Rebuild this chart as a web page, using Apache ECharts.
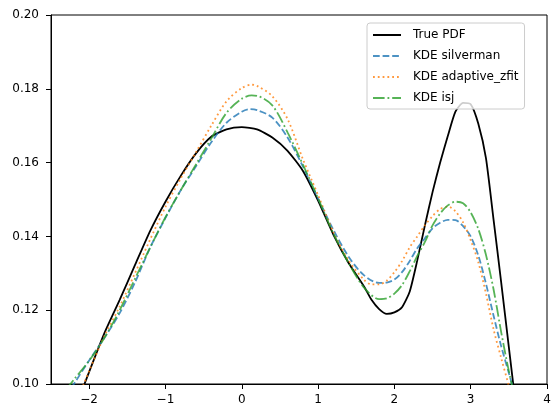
<!DOCTYPE html>
<html>
<head>
<meta charset="utf-8">
<script src="https://cdn.jsdelivr.net/npm/echarts@6/dist/echarts.min.js"></script>
<style>
  html, body { margin: 0; padding: 0; background: #fff; }
  #chart { width: 560px; height: 418px; }
</style>
</head>
<body>
<div id="chart"></div>
<script>
// x tick labels
var xTicks = [-2, -1, 0, 1, 2, 3, 4];

// True PDF
var trueX = [-2.2, -2.0, -1.8, -1.6, -1.4, -1.2, -1.0, -0.8, -0.6, -0.4, -0.2, 0.0, 0.2, 0.4, 0.6, 0.8, 1.0, 1.2, 1.4, 1.6, 1.7, 1.8, 1.9, 2.0, 2.1, 2.2, 2.3, 2.4, 2.5, 2.6, 2.7, 2.8, 2.9, 3.0, 3.1, 3.2, 3.3, 3.4, 3.5, 3.6];
var trueY = [0.0925, 0.1033, 0.1138, 0.1228, 0.1322, 0.1415, 0.1494, 0.1564, 0.1625, 0.1670, 0.1690, 0.1696, 0.1690, 0.1668, 0.1632, 0.1578, 0.1497, 0.1405, 0.1328, 0.1265, 0.1228, 0.1203, 0.1190, 0.1194, 0.1208, 0.1250, 0.1335, 0.1430, 0.1520, 0.1600, 0.1672, 0.1738, 0.1762, 0.1758, 0.1705, 0.1612, 0.1445, 0.1275, 0.1100, 0.0925];

// KDE silverman
var silvX = [-2.3, -2.2, -2.0, -1.8, -1.6, -1.4, -1.2, -1.0, -0.8, -0.6, -0.4, -0.2, 0.0, 0.1, 0.2, 0.4, 0.6, 0.8, 1.0, 1.2, 1.4, 1.6, 1.8, 1.9, 2.0, 2.1, 2.2, 2.3, 2.4, 2.5, 2.6, 2.7, 2.8, 2.9, 3.0, 3.1, 3.2, 3.3, 3.4, 3.5, 3.6];
var silvY = [0.0968, 0.1000, 0.1064, 0.1125, 0.1192, 0.1275, 0.1370, 0.1450, 0.1525, 0.1590, 0.1655, 0.1708, 0.1738, 0.1745, 0.1742, 0.1722, 0.1668, 0.1590, 0.1503, 0.1418, 0.1345, 0.1295, 0.1274, 0.1275, 0.1283, 0.1303, 0.1333, 0.1368, 0.1395, 0.1422, 0.1437, 0.1445, 0.1444, 0.1428, 0.1400, 0.1348, 0.1272, 0.1185, 0.1102, 0.1030, 0.0955];

// KDE adaptive_zfit
var adaptX = [-2.2, -2.0, -1.8, -1.6, -1.4, -1.2, -1.0, -0.8, -0.6, -0.4, -0.2, 0.0, 0.13, 0.2, 0.4, 0.6, 0.8, 1.0, 1.2, 1.4, 1.6, 1.7, 1.8, 1.9, 2.0, 2.1, 2.2, 2.3, 2.4, 2.5, 2.6, 2.7, 2.8, 2.9, 3.0, 3.1, 3.2, 3.3, 3.4, 3.5, 3.6];
var adaptY = [0.0935, 0.1035, 0.1130, 0.1210, 0.1300, 0.1392, 0.1480, 0.1557, 0.1628, 0.1700, 0.1766, 0.1802, 0.1811, 0.1808, 0.1780, 0.1718, 0.1610, 0.1512, 0.1412, 0.1335, 0.1283, 0.1270, 0.1270, 0.1280, 0.1303, 0.1333, 0.1370, 0.1400, 0.1430, 0.1455, 0.1474, 0.1481, 0.1468, 0.1438, 0.1390, 0.1330, 0.1245, 0.1148, 0.1070, 0.0995, 0.0920];

// KDE isj
var isjX = [-2.3, -2.2, -2.0, -1.8, -1.6, -1.4, -1.2, -1.0, -0.8, -0.6, -0.4, -0.2, 0.0, 0.13, 0.2, 0.4, 0.6, 0.8, 1.0, 1.2, 1.4, 1.6, 1.8, 1.9, 2.0, 2.1, 2.2, 2.3, 2.4, 2.5, 2.6, 2.7, 2.8, 2.9, 3.0, 3.1, 3.2, 3.3, 3.4, 3.5, 3.6];
var isjY = [0.0985, 0.1012, 0.1063, 0.1125, 0.1200, 0.1285, 0.1370, 0.1452, 0.1525, 0.1595, 0.1665, 0.1735, 0.1773, 0.1782, 0.1781, 0.1755, 0.1682, 0.1595, 0.1503, 0.1408, 0.1328, 0.1262, 0.1230, 0.1232, 0.1245, 0.1268, 0.1305, 0.1347, 0.1385, 0.1430, 0.1462, 0.1484, 0.1494, 0.1490, 0.1465, 0.1420, 0.1350, 0.1256, 0.1140, 0.1035, 0.0945];

function pairs(xs, ys) {
  return xs.map(function (x, i) { return [x, ys[i]]; });
}

var font = 'DejaVu Sans';
var chart = echarts.init(document.getElementById('chart'), null, { renderer: 'canvas' });

var option = {
  animation: false,
  backgroundColor: '#fff',
  textStyle: { fontFamily: font },
  grid: {
    left: 51, right: 13, top: 15, bottom: 34,
    show: true, borderColor: '#000', borderWidth: 1, backgroundColor: 'transparent'
  },
  legend: {
    orient: 'vertical',
    left: 367, top: 23,
    padding: [6, 6, 5, 5],
    itemWidth: 28, itemHeight: 14, itemGap: 9,
    backgroundColor: 'rgba(255,255,255,0.8)',
    borderColor: '#cccccc', borderWidth: 1, borderRadius: 3,
    itemStyle: { opacity: 0 },
    textStyle: { fontFamily: font, fontSize: 12, color: '#000', padding: [0, 0, 0, 7] },
    data: ['True PDF', 'KDE silverman', 'KDE adaptive_zfit', 'KDE isj']
  },
  xAxis: {
    type: 'value', min: -2.5, max: 4,
    axisLine: { onZero: false, lineStyle: { color: '#000', width: 1 } },
    axisTick: { show: true, length: 5, customValues: xTicks, lineStyle: { color: '#000' } },
    axisLabel: {
      customValues: xTicks, margin: 10, color: '#000', fontSize: 12, fontFamily: font,
      formatter: function (v) { return (v < 0 ? '\u2212' : '') + Math.abs(v); }
    },
    splitLine: { show: false }
  },
  yAxis: {
    type: 'value', min: 0.1, max: 0.2, interval: 0.02,
    axisLine: { show: true, onZero: false, lineStyle: { color: '#000', width: 1 } },
    axisTick: { show: true, length: 5, lineStyle: { color: '#000' } },
    axisLabel: {
      margin: 12, color: '#000', fontSize: 12, fontFamily: font,
      formatter: function (v) { return v.toFixed(2); }
    },
    splitLine: { show: false }
  },
  series: [
    {
      name: 'True PDF', type: 'line', symbol: 'none', clip: true, smooth: 0.2,
      data: pairs(trueX, trueY),
      itemStyle: { color: '#000' },
      lineStyle: { color: '#000', width: 1.8 }
    },
    {
      name: 'KDE silverman', type: 'line', symbol: 'none', clip: true, smooth: 0.3,
      data: pairs(silvX, silvY),
      itemStyle: { color: 'rgba(31,119,180,0.8)' },
      lineStyle: { color: 'rgba(31,119,180,0.8)', width: 1.8, type: [6.7, 2.9] }
    },
    {
      name: 'KDE adaptive_zfit', type: 'line', symbol: 'none', clip: true, smooth: 0.3,
      data: pairs(adaptX, adaptY),
      itemStyle: { color: 'rgba(255,127,14,0.8)' },
      lineStyle: { color: 'rgba(255,127,14,0.8)', width: 1.8, type: [1.8, 3.0] }
    },
    {
      name: 'KDE isj', type: 'line', symbol: 'none', clip: true, smooth: 0.3,
      data: pairs(isjX, isjY),
      itemStyle: { color: 'rgba(44,160,44,0.8)' },
      lineStyle: { color: 'rgba(44,160,44,0.8)', width: 1.8, type: [11.6, 2.9, 1.8, 2.9] }
    }
  ]
};

chart.setOption(option);
</script>
</body>
</html>
